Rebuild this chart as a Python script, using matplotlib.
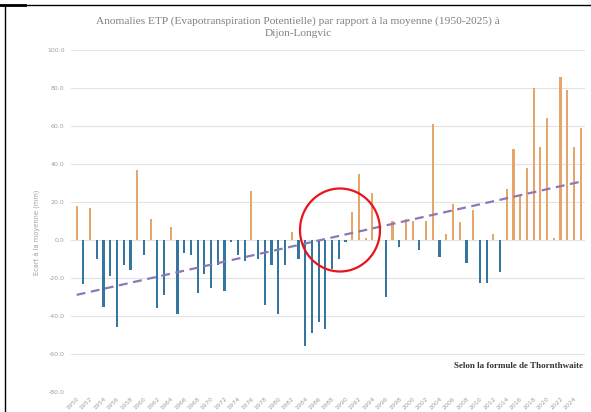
import numpy as np
import matplotlib
matplotlib.use("Agg")
import matplotlib.pyplot as plt
from matplotlib.patches import Ellipse
from matplotlib.lines import Line2D

years = list(range(1950, 2026))
anomalies = [18, -23, 17, -10, -35, -19, -46, -13, -16, 37,
             -8, 11, -36, -29, 7, -39, -7, -8, -28, -18,
             -25, -13, -27, -1, -8, -11, 26, -10, -34, -13,
             -39, -13, 4, -10, -56, -49, -43, -47, -15, -10,
             -1, 15, 35, 1, 25, 0.5, -30, 10, -3.5, 11,
             10, -5.5, 10, 61, -9, 3, 19, 9.6, -12, 16,
             -22.5, -22.5, 3, -17, 27, 48, 23, 38, 80, 49,
             64, 1, 86, 79, 49, 59]
yticks = [-80, -60, -40, -20, 0, 20, 40, 60, 80, 100]
xtick_years = list(range(1950, 2025, 2))

title = ("Anomalies ETP (Evapotranspiration Potentielle) par rapport à la moyenne (1950-2025) à\n"
         "Dijon-Longvic")
ylabel = "Ecart à la moyenne (mm)"
note = "Selon la formule de Thornthwaite"

W, H = 591, 412
fig = plt.figure(figsize=(W / 100, H / 100), dpi=100)
ax = fig.add_axes([71.3 / W, (H - 392) / H, (585.4 - 71.3) / W, (392 - 50) / H])

x = np.array(years)
y = np.array(anomalies, dtype=float)
colors = ['#E6A66A' if v >= 0 else '#3476A0' for v in y]
ax.bar(x, y, width=0.32, color=colors, zorder=2)

coef = np.polyfit(x, y, 1)
xt = np.array([x[0], x[-1]])
ax.plot(xt, np.polyval(coef, xt), linestyle=(0, (4, 2.5)), color='#8A78B8', lw=1.6, zorder=3)

ax.set_xlim(1949.2, 2025.7)
ax.set_ylim(-80, 100)
ax.set_yticks(yticks)
ax.set_yticklabels([f"{t:.1f}" for t in yticks], fontsize=4.5, color='#A0A0A0')
ax.set_xticks(xtick_years)
ax.set_xticklabels([str(t) for t in xtick_years], fontsize=4.5, color='#A0A0A0',
                   rotation=45, ha='right', rotation_mode='anchor')
ax.tick_params(axis='both', length=0)
ax.tick_params(axis='y', pad=5)
ax.tick_params(axis='x', pad=3)
ax.grid(axis='y', color='#E3E3E3', lw=0.8, zorder=0)
for s in ax.spines.values():
    s.set_visible(False)

fig.text(298 / W, 1 - 27 / H, title, ha='center', va='center', fontsize=8.2,
         color='#7F7F7F', family='Liberation Serif', linespacing=1.5)
fig.text(38 / W, 1 - 232 / H, ylabel, ha='center', va='center', rotation=90,
         fontsize=4.8, color='#A0A0A0')
fig.text(583 / W, 1 - 366 / H, note, ha='right', va='center', fontsize=6.5,
         color='#333333', family='Liberation Serif', fontweight='bold')

fig.add_artist(Ellipse((340 / W, 1 - 230 / H), 80 / W, 83 / H, transform=fig.transFigure,
                       fill=False, edgecolor='#E8141B', lw=1.6, zorder=10))

fig.add_artist(Line2D([0, 1], [1 - 4.5 / H, 1 - 4.5 / H], transform=fig.transFigure, color='black', lw=1.0))
fig.add_artist(Line2D([0, 25 / W], [1 - 5 / H, 1 - 5 / H], transform=fig.transFigure, color='black', lw=2.0))
fig.add_artist(Line2D([4.5 / W, 4.5 / W], [0, 1 - 4.5 / H], transform=fig.transFigure, color='black', lw=1.0))

fig.savefig("out.png", dpi=100)
